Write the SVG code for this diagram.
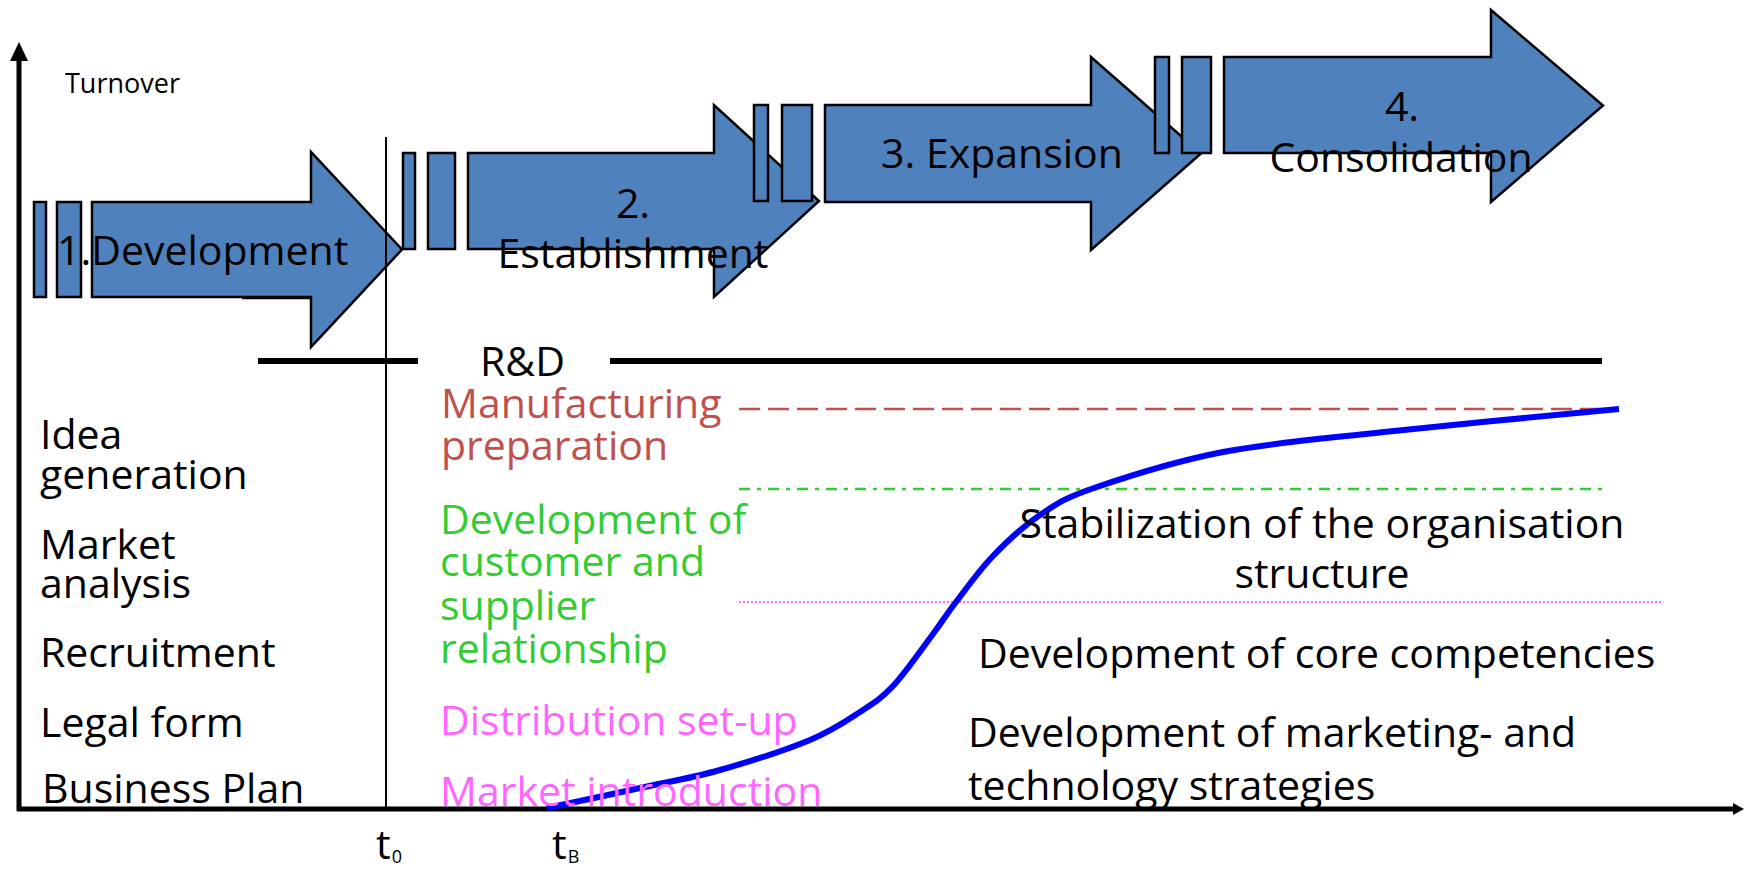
<svg xmlns="http://www.w3.org/2000/svg" width="1744" height="869" viewBox="0 0 1744 869">
<style>
.arr{fill:#4F81BD;stroke:#000;stroke-width:2.5;stroke-linejoin:miter}
.t{font-family:"Open Sans","Noto Sans","Liberation Sans",sans-serif;font-size:41px;fill:#000}
.c{text-anchor:middle}
.red{fill:#C0504D}
.grn{fill:#33CC33}
.pnk{fill:#FF66FF}
.sm{font-size:27px}
</style>
<rect width="1744" height="869" fill="#fff"/>
<g id="stage1">
<rect class="arr" x="34" y="202" width="12" height="95"/>
<rect class="arr" x="57" y="202" width="24" height="95"/>
<polygon class="arr" points="92,202 311,202 311,152 402,249.5 311,347 311,297 92,297"/>
<line x1="242" y1="298" x2="311" y2="298" stroke="#000" stroke-width="2.5"/>
<text class="t" x="57" y="265">1.Development</text>
</g>
<g id="stage2">
<rect class="arr" x="403" y="153" width="12" height="96"/>
<rect class="arr" x="428" y="153" width="27" height="96"/>
<polygon class="arr" points="468,153 714,153 714,105 819,201 714,297 714,249 468,249"/>
<text class="t c" x="633" y="218">2.</text>
<text class="t c" x="633" y="268">Establishment</text>
</g>
<g id="stage3">
<rect class="arr" x="754" y="105" width="14" height="96"/>
<rect class="arr" x="782" y="105" width="30" height="96"/>
<polygon class="arr" points="825,105 1091,105 1091,57 1201,153.5 1091,250 1091,202 825,202"/>
<text class="t c" x="1002" y="168">3. Expansion</text>
</g>
<g id="stage4">
<rect class="arr" x="1155" y="57" width="14" height="96"/>
<rect class="arr" x="1182" y="57" width="29" height="96"/>
<polygon class="arr" points="1224,57 1491,57 1491,10 1603,105.5 1491,202 1491,153 1224,153"/>
<text class="t c" x="1402" y="121">4.</text>
<text class="t c" x="1401" y="172">Consolidation</text>
</g>
<g id="connectors">
<line x1="19" y1="58" x2="19" y2="811" stroke="#000" stroke-width="5"/>
<polygon points="19,42 28,61 10,61" fill="#000"/>
<line x1="17" y1="809" x2="1736" y2="809" stroke="#000" stroke-width="5"/>
<polygon points="1744,809 1733,803 1733,815" fill="#000"/>
<line x1="386" y1="137" x2="386" y2="809" stroke="#000" stroke-width="2"/>
<line x1="258" y1="361" x2="418" y2="361" stroke="#000" stroke-width="6"/>
<line x1="610" y1="361" x2="1602" y2="361" stroke="#000" stroke-width="6"/>
<line x1="739" y1="409" x2="1602" y2="409" stroke="#C0504D" stroke-width="2.7" stroke-dasharray="21 8"/>
<line x1="739" y1="489" x2="1602" y2="489" stroke="#33CC33" stroke-width="2.7" stroke-dasharray="11 7 4 7"/>
<line x1="739" y1="602" x2="1663" y2="602" stroke="#FF66FF" stroke-width="2" stroke-dasharray="2 2"/>
<path d="M547,808 C562.5,804.7 611.2,794.3 640,788 C668.8,781.7 691.7,778 720,770 C748.3,762 786.7,749.7 810,740 C833.3,730.3 846.2,721 860,712 C873.8,703 880.8,699 893,686 C905.2,673 922.5,648 933,634 C943.5,620 946,615 956,602 C966,589 979,570.5 993,556 C1007,541.5 1023.2,526.3 1040,515 C1056.8,503.7 1063.5,498.5 1094,488 C1124.5,477.5 1174.7,461.3 1223,452 C1271.3,442.7 1318,439.2 1384,432 C1450,424.8 1579.8,412.8 1619,409" fill="none" stroke="#0000FF" stroke-width="6"/>
</g>
<g id="axis-labels">
<text class="t sm" x="65" y="93">Turnover</text>
<text class="t" x="376" y="859" font-size="28">t<tspan font-size="18" dx="1" dy="4">0</tspan></text>
<text class="t" x="552" y="859" font-size="28">t<tspan font-size="18" dx="1" dy="4">B</tspan></text>
</g>
<g id="rd">
<text class="t" x="480" y="376">R&amp;D</text>
</g>
<g id="founding-tasks">
<text class="t" x="40" y="449">Idea</text>
<text class="t" x="40" y="489">generation</text>
<text class="t" x="40" y="559">Market</text>
<text class="t" x="40" y="598">analysis</text>
<text class="t" x="40" y="667">Recruitment</text>
<text class="t" x="40" y="737">Legal form</text>
<text class="t" x="42" y="803">Business Plan</text>
</g>
<g id="establishment-tasks">
<text class="t red" x="441" y="418">Manufacturing</text>
<text class="t red" x="441" y="460">preparation</text>
<text class="t grn" x="440" y="534">Development of</text>
<text class="t grn" x="440" y="576">customer and</text>
<text class="t grn" x="440" y="620">supplier</text>
<text class="t grn" x="440" y="663">relationship</text>
<text class="t pnk" x="440" y="735">Distribution set-up</text>
<text class="t pnk" x="440" y="806">Market introduction</text>
</g>
<g id="growth-tasks">
<text class="t c" x="1322" y="538">Stabilization of the organisation</text>
<text class="t c" x="1322" y="588">structure</text>
<text class="t" x="978" y="668">Development of core competencies</text>
<text class="t" x="968" y="747">Development of marketing- and</text>
<text class="t" x="968" y="800">technology strategies</text>
</g>
</svg>
